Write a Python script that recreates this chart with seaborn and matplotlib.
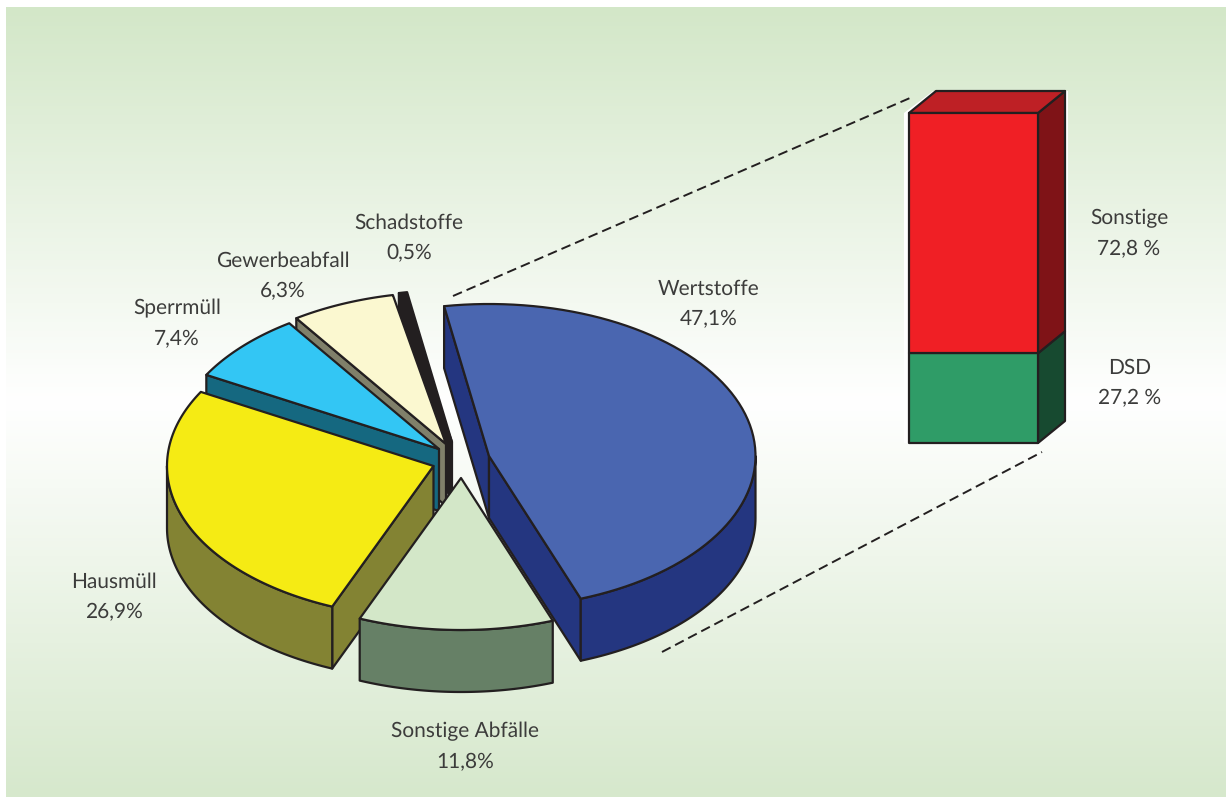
import numpy as np
import matplotlib
matplotlib.use("Agg")
import matplotlib.pyplot as plt
from matplotlib.patches import Polygon
import seaborn as sns

# --- data ---
pie_labels = ["Wertstoffe", "Sonstige Abfälle", "Hausmüll", "Sperrmüll", "Gewerbeabfall", "Schadstoffe"]
pie_values = [47.1, 11.8, 26.9, 7.4, 6.3, 0.5]
bar_labels = ["DSD", "Sonstige"]
bar_values = [27.2, 72.8]

# --- styling / layout (pixels of the 1231x798 image) ---
top_cols = ["#4A66B0", "#D3E7C8", "#F5EB14", "#33C6F4", "#FBF8D0", "#231F20"]
side_cols = ["#243680", "#668066", "#838333", "#156880", "#80806A", "#231F20"]
apexes = [(489, 456), (461, 478), (433.5, 466), (439, 449), (446, 444), (452, 442)]
pie_label_pos = [(709, 304), (465, 747), (114, 597), (177, 324), (283, 276), (409, 238)]
bar_label_pos = [(1130, 383), (1129, 234)]
RX, RY, DEPTH = 266.5, 152, 62
START = 99.7
INK = "#231F20"
TEXT = "#3C3C3B"
LW = 1.6
FS = 15

sns.set_theme(style="white")
plt.rcParams["font.family"] = ["Lato", "DejaVu Sans"]
plt.rcParams["text.hinting"] = "none"

fig = plt.figure(figsize=(12.31, 7.98), dpi=100, facecolor="white")
ax = fig.add_axes([0, 0, 1, 1])
ax.axis("off")

# background gradient panel
cmap = sns.blend_palette(["#D3E7C8", "#FFFFFF", "#D6E8CC"], as_cmap=True)
ax.imshow(np.linspace(0, 1, 256)[:, None], cmap=cmap, aspect="auto",
          extent=(6, 1226, 797, 7), zorder=0)
ax.set_xlim(0, 1231)
ax.set_ylim(798, 0)


def ell(c, t):
    t = np.radians(t)
    return np.column_stack([c[0] + RX * np.cos(t), c[1] - RY * np.sin(t)])


def poly(pts, fc, z):
    ax.add_patch(Polygon(pts, closed=True, fc=fc, ec=INK, lw=LW, joinstyle="round", zorder=z))


def extrude(pts):
    low = np.array(pts, dtype=float) + [0, DEPTH]
    return np.vstack([pts, low[::-1]])


# pie angles come from the values, clockwise from START
sweeps = np.array(pie_values) / sum(pie_values) * 360
ends = START - np.cumsum(sweeps)
starts = ends + sweeps
draw_order = [5, 4, 3, 2, 0, 1]

z = 2
for i in draw_order:
    c = np.array(apexes[i], dtype=float)
    t0, t1 = starts[i], ends[i]
    if np.cos(np.radians(t0)) < 0:  # start-side cut face visible
        poly(extrude(np.vstack([c, ell(c, t0)])), side_cols[i], z)
    if np.cos(np.radians(t1)) > 0:  # end-side cut face visible
        poly(extrude(np.vstack([c, ell(c, t1)])), side_cols[i], z)
    a, b = min(t0, 0), max(t1, -180)
    if a > b:  # outer rim on the lower half of the ellipse
        poly(extrude(ell(c, np.linspace(a, b, 60))), side_cols[i], z)
    arc = ell(c, np.linspace(t0, t1, 80))
    poly(np.vstack([c, arc]), top_cols[i], z + 0.5)
    pct = f"{pie_values[i]:.1f}".replace(".", ",") + "%"
    x, y = pie_label_pos[i]
    ax.text(x, y, pie_labels[i] + "\n" + pct, ha="center", va="center", fontsize=FS,
            color=TEXT, linespacing=1.75, zorder=10)
    z += 1

# stacked 3D bar, built from its shares
BX0, BX1, BTOP, BBOT = 909, 1038, 113, 443
DX, DY = 27, -22
ax.add_patch(Polygon([(904, 113), (933, 91), (1068, 91), (1068, 421), (1038, 443), (904, 443)],
                     closed=True, fc="white", ec="none", zorder=1))
fronts = ["#2F9C67", "#F01F25"]
rights = ["#174A30", "#7F1317"]
H = BBOT - BTOP
level = BBOT
for j, v in enumerate(bar_values):
    h = H * v / sum(bar_values)
    top = level - h
    poly([(BX1, level), (BX1 + DX, level + DY), (BX1 + DX, top + DY), (BX1, top)], rights[j], 3)
    poly([(BX0, level), (BX1, level), (BX1, top), (BX0, top)], fronts[j], 3.5)
    lx, ly = bar_label_pos[j]
    ax.text(lx, ly, bar_labels[j] + "\n" + f"{v:.1f}".replace(".", ",") + " %", ha="center",
            va="center", fontsize=FS, color=TEXT, linespacing=1.75, zorder=10)
    level = top
poly([(BX0, BTOP), (BX0 + DX, BTOP + DY), (BX1 + DX, BTOP + DY), (BX1, BTOP)], "#BE2025", 3)

# dashed connector lines
for xs, ys in [((453, 910), (296, 98)), ((662, 1042), (652, 452))]:
    ax.plot(xs, ys, color=INK, lw=1.4, dashes=(5, 2.6), zorder=2)

fig.savefig("out.png", dpi=100, facecolor="white")
